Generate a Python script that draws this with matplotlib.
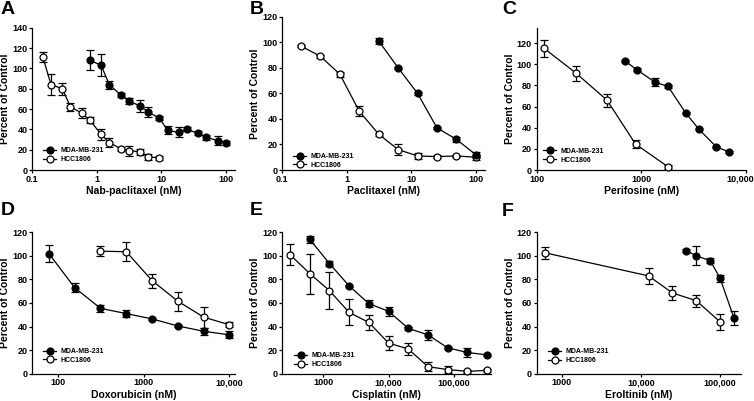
import matplotlib
matplotlib.use("Agg")
import matplotlib.pyplot as plt
from matplotlib.lines import Line2D
from matplotlib.ticker import FixedLocator, FixedFormatter, NullLocator
from matplotlib.transforms import ScaledTranslation

plt.rcParams['font.family'] = ['Liberation Sans', 'DejaVu Sans']
plt.rcParams['font.weight'] = 'bold'

# ---------------- data ----------------
# A: Nab-paclitaxel
a_mda_x = [0.78, 1.17, 1.56, 2.34, 3.125, 4.69, 6.25, 9.375, 12.5, 18.75, 25, 37.5, 50, 75, 100]
a_mda_y = [108, 103, 84, 74, 68, 63, 57, 51, 39, 37, 40, 36, 32, 29, 27]
a_mda_e = [10, 11, 4, 2, 3, 6, 5, 2, 4, 5, 2, 2, 2, 4, 2]
a_hcc_x = [0.146, 0.195, 0.293, 0.39, 0.586, 0.78, 1.17, 1.56, 2.34, 3.125, 4.69, 6.25, 9.375]
a_hcc_y = [111, 84, 80, 62, 56, 49, 35, 27, 21, 19, 18, 13, 12]
a_hcc_e = [5, 10, 6, 4, 5, 3, 5, 4, 2, 5, 3, 3, 2]

# B: Paclitaxel
b_mda_x = [3.125, 6.25, 12.5, 25, 50, 100]
b_mda_y = [101, 80, 60, 33, 24, 12]
b_mda_e = [2, 1, 1, 1, 2, 2]
b_hcc_x = [0.195, 0.39, 0.78, 1.56, 3.125, 6.25, 12.5, 25, 50, 100]
b_hcc_y = [97, 89, 75, 46, 28, 16, 11, 10.5, 11, 10]
b_hcc_e = [1, 1, 2, 4, 1, 4, 2, 1, 1, 2]

# C: Perifosine
c_mda_x = [700, 900, 1350, 1800, 2650, 3550, 5200, 6900]
c_mda_y = [103, 95, 83, 79, 54, 38.5, 22, 17]
c_mda_e = [1, 1, 4, 1, 1, 1, 1, 1]
c_hcc_x = [118, 238, 470, 880, 1800]
c_hcc_y = [115, 91.5, 66, 24.5, 3]
c_hcc_e = [8, 7, 6, 4, 2]

# D: Doxorubicin
d_mda_x = [78, 156, 312, 625, 1250, 2500, 5000, 10000]
d_mda_y = [102, 73, 55.5, 51, 46.5, 40.5, 36, 33]
d_mda_e = [7, 4, 3, 3, 1, 1, 3, 3]
d_hcc_x = [312, 625, 1250, 2500, 5000, 10000]
d_hcc_y = [104, 103.5, 79, 61.5, 48, 41.5]
d_hcc_e = [4, 8, 6, 8, 9, 2]

# E: Cisplatin
e_mda_x = [625, 1250, 2500, 5000, 10000, 20000, 40000, 80000, 160000, 320000]
e_mda_y = [114, 93.5, 74.5, 59.5, 53, 38.5, 33, 22, 18, 16]
e_mda_e = [3, 2, 1, 3, 4, 1, 4, 1, 4, 1]
e_hcc_x = [312.5, 625, 1250, 2500, 5000, 10000, 20000, 40000, 80000, 160000, 320000]
e_hcc_y = [101, 85, 70.5, 52, 43.5, 26, 21, 6, 3.5, 2, 2.8]
e_hcc_e = [9, 17, 16, 11, 6, 6, 5, 4, 3, 1, 1]

# F: Erlotinib
f_mda_x = [37500, 50000, 75000, 100000, 150000]
f_mda_y = [104.5, 100, 96, 81, 47]
f_mda_e = [1, 8, 2, 3, 6]
f_hcc_x = [625, 12500, 25000, 50000, 100000]
f_hcc_y = [102.5, 83, 68.5, 62, 44]
f_hcc_e = [5, 7, 6, 5, 7]

series_names = ['MDA-MB-231', 'HCC1806']

# ---------------- layout ----------------
W, H = 754, 401
fig = plt.figure(figsize=(W / 100, H / 100), dpi=100)


def add_ax(left, right, bottom, top):
    return fig.add_axes([left / W, 1 - bottom / H, (right - left) / W, (bottom - top) / H])


panels = [
    dict(letter='A', box=(32.3, 235, 170, 27.7), xlim=(0.1, 139), ylim=(0, 140),
         yt=[0, 20, 40, 60, 80, 100, 120, 140],
         xt=[0.1, 1, 10, 100], xtl=['0.1', '1', '10', '100'],
         xlabel='Nab-paclitaxel (nM)',
         mda=(a_mda_x, a_mda_y, a_mda_e), hcc=(a_hcc_x, a_hcc_y, a_hcc_e), leg=(10.7, 11)),
    dict(letter='B', box=(282.3, 485, 170, 16.7), xlim=(0.1, 139), ylim=(0, 120),
         yt=[0, 20, 40, 60, 80, 100, 120],
         xt=[0.1, 1, 10, 100], xtl=['0.1', '1', '10', '100'],
         xlabel='Paclitaxel (nM)',
         mda=(b_mda_x, b_mda_y, b_mda_e), hcc=(b_hcc_x, b_hcc_y, b_hcc_e), leg=(10.7, 5.5)),
    dict(letter='C', box=(536.7, 746, 170, 28.3), xlim=(100, 10000), ylim=(0, 134),
         yt=[0, 20, 40, 60, 80, 100, 120],
         xt=[100, 1000, 10000], xtl=['100', '1000', '10,000'],
         xlabel='Perifosine (nM)',
         mda=(c_mda_x, c_mda_y, c_mda_e), hcc=(c_hcc_x, c_hcc_y, c_hcc_e), leg=(6.6, 10.7)),
    dict(letter='D', box=(32.3, 235, 373.7, 232.3), xlim=(50, 11600), ylim=(0, 120),
         yt=[0, 20, 40, 60, 80, 100, 120],
         xt=[100, 1000, 10000], xtl=['100', '1000', '10,000'],
         xlabel='Doxorubicin (nM)',
         mda=(d_mda_x, d_mda_y, d_mda_e), hcc=(d_hcc_x, d_hcc_y, d_hcc_e), leg=(11, 14)),
    dict(letter='E', box=(282.3, 491, 373.7, 232.3), xlim=(238, 368000), ylim=(0, 120),
         yt=[0, 20, 40, 60, 80, 100, 120],
         xt=[1000, 10000, 100000], xtl=['1000', '10,000', '100,000'],
         xlabel='Cisplatin (nM)',
         mda=(e_mda_x, e_mda_y, e_mda_e), hcc=(e_hcc_x, e_hcc_y, e_hcc_e), leg=(11.7, 9.7)),
    dict(letter='F', box=(536.7, 740.7, 373.7, 232.3), xlim=(484, 182000), ylim=(0, 120),
         yt=[0, 20, 40, 60, 80, 100, 120],
         xt=[1000, 10000, 100000], xtl=['1000', '10,000', '100,000'],
         xlabel='Eroltinib (nM)',
         mda=(f_mda_x, f_mda_y, f_mda_e), hcc=(f_hcc_x, f_hcc_y, f_hcc_e), leg=(11.6, 13.7)),
]

letter_pos = {'A': (1, 1), 'B': (250, 1), 'C': (502, 1), 'D': (1, 202), 'E': (250, 202), 'F': (502, 203)}

LEG_FS = 5.0  # points

for p in panels:
    left, right, bottom, top = p['box']
    ax = add_ax(*p['box'])
    ax.set_xscale('log')
    common = dict(color='black', lw=0.9, ms=5, capsize=3, elinewidth=0.9,
                  capthick=0.9, markeredgewidth=0.9, clip_on=False)
    x, y, e = p['hcc']
    ax.errorbar(x, y, yerr=e, fmt='-o', mfc='white', mec='black', zorder=3, **common)
    x, y, e = p['mda']
    ax.errorbar(x, y, yerr=e, fmt='-o', mfc='black', mec='black', zorder=4, **common)
    ax.set_xlim(*p['xlim'])
    ax.set_ylim(*p['ylim'])
    ax.xaxis.set_major_locator(FixedLocator(p['xt']))
    ax.xaxis.set_major_formatter(FixedFormatter(p['xtl']))
    ax.xaxis.set_minor_locator(NullLocator())
    ax.set_yticks(p['yt'])
    for s in ['top', 'right']:
        ax.spines[s].set_visible(False)
    for s in ['left', 'bottom']:
        ax.spines[s].set_linewidth(0.9)
    ax.tick_params(axis='both', direction='out', length=2.2, width=0.9, labelsize=6.5,
                   pad=1.2)
    for lab in ax.get_xticklabels() + ax.get_yticklabels():
        lab.set_fontweight('bold')
    ax.set_xlabel(p['xlabel'], fontsize=7.5, fontweight='bold', labelpad=1.5)
    ax.set_ylabel('Percent of Control', fontsize=7.5, fontweight='bold', labelpad=1.5)

    # legend: handle start dx px right of spine, lower row centre dy px above axis
    handles = [Line2D([], [], color='black', lw=0.9, marker='o', ms=5, mfc='black',
                      mec='black', mew=0.9),
               Line2D([], [], color='black', lw=0.9, marker='o', ms=5, mfc='white',
                      mec='black', mew=0.9)]
    dx, dy = p['leg']
    wpx = right - left
    hpx = bottom - top
    leg = ax.legend(handles, series_names, loc='lower left',
                    bbox_to_anchor=(dx / wpx, (dy - 4.2) / hpx),
                    frameon=False, fontsize=LEG_FS, handlelength=1.9, handletextpad=0.6,
                    labelspacing=0.25, borderaxespad=0, borderpad=0)
    for t in leg.get_texts():
        t.set_fontweight('bold')

    lx, ly = letter_pos[p['letter']]
    fig.text(lx / W, 1 - ly / H, p['letter'], fontsize=14, fontweight='bold',
             ha='left', va='top')

# keep the last tick label of panel C inside the picture
axC = fig.axes[2]
lastC = axC.get_xticklabels()[-1]
lastC.set_transform(lastC.get_transform() + ScaledTranslation(-6 / 100, 0, fig.dpi_scale_trans))

fig.savefig('out.png', dpi=100)
